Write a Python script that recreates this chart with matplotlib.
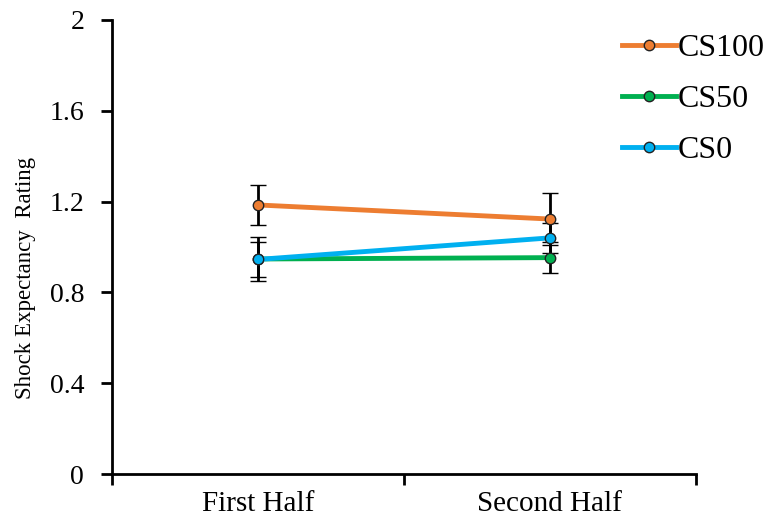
import matplotlib.pyplot as plt
from matplotlib.lines import Line2D

plt.rcParams['font.family'] = ['Liberation Serif', 'DejaVu Serif']

categories = ["First Half", "Second Half"]
series_names = ["CS100", "CS50", "CS0"]
cs100 = [1.185, 1.123]
cs50 = [0.947, 0.953]
cs0 = [0.945, 1.040]
cs100_err = [0.088, 0.115]
cs50_err = [0.095, 0.068]
cs0_err = [0.077, 0.065]
colors = ["#ED7D31", "#00B050", "#00B0F0"]

fig = plt.figure(figsize=(7.64, 5.25), dpi=100)
ax = fig.add_axes([0.1466, 0.0971, 0.764, 0.865])

x = [0.5, 1.5]
handles = []
for vals, errs, name, c in zip([cs100, cs50, cs0], [cs100_err, cs50_err, cs0_err],
                               series_names, colors):
    ax.errorbar(x, vals, yerr=errs, color=c, lw=3.5, marker="o", ms=7.5,
                mfc=c, mec="#222222", mew=1.0, ecolor="black", elinewidth=2,
                capsize=6, capthick=2.5)
    handles.append(Line2D([], [], color=c, lw=3.5, marker="o", ms=7.5,
                          mfc=c, mec="#222222", mew=1.0, label=name))

ax.set_xlim(0, 2)
ax.set_ylim(0, 2)
ax.set_yticks([0, 0.4, 0.8, 1.2, 1.6, 2])
ax.set_yticklabels(["0", "0.4", "0.8", "1.2", "1.6", "2"])
ax.set_xticks([0, 1, 2])
ax.set_xticklabels([])
ax.set_xticks(x, minor=True)
ax.set_xticklabels(categories, minor=True)
ax.tick_params(axis="x", which="minor", length=0, pad=12, labelsize=21)
ax.tick_params(axis="x", which="major", direction="out", length=8, width=2)
ax.tick_params(axis="y", direction="out", length=8, width=2, labelsize=20, pad=12)
for side in ["top", "right"]:
    ax.spines[side].set_visible(False)
for side in ["left", "bottom"]:
    ax.spines[side].set_linewidth(2)
ax.set_ylabel("Shock Expectancy  Rating", fontsize=16.5)
ax.yaxis.set_label_coords(-0.13, 0.432)

ax.legend(handles=handles, loc="upper left", bbox_to_anchor=(0.873, 0.97),
          frameon=False, fontsize=23, handlelength=1.7, handletextpad=0.05,
          labelspacing=0.68, borderpad=0, borderaxespad=0)

fig.savefig("out.png", dpi=100)
